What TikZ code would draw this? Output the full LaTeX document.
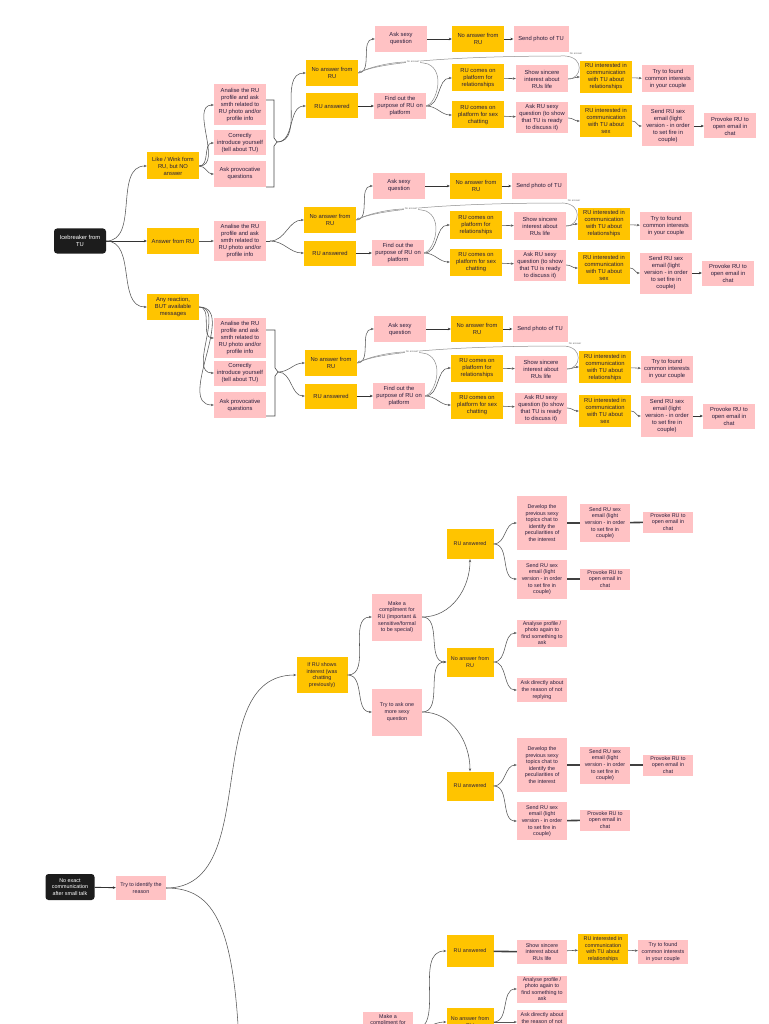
\documentclass[tikz,border=0pt]{standalone}
\usepackage{fontspec}
\setmainfont{Liberation Sans}
\usetikzlibrary{arrows.meta}
\definecolor{yel}{RGB}{255,196,0}
\definecolor{pnk}{RGB}{255,194,196}
\definecolor{txtc}{RGB}{40,30,60}
\definecolor{lnc}{RGB}{85,85,85}
\definecolor{blkc}{RGB}{28,28,28}
\newcommand\rublock{%
\node[yb,minimum height=26pt] (N) at (332,73) {No answer from\\RU};
\node[yb,minimum height=25pt] (A) at (332,106) {RU answered};
\node[pb,minimum height=26pt] (S) at (401,39) {Ask sexy\\question};
\node[yb,minimum height=26pt] (N2) at (478,39) {No answer from\\RU};
\node[pb,minimum height=26pt,minimum width=55pt] (P) at (541,39) {Send photo of TU};
\node[pb,minimum height=26pt] (F) at (400,106) {Find out the\\purpose of RU on\\platform};
\node[yb,minimum height=27pt] (R1) at (478,78) {RU comes on\\platform for\\relationships};
\node[yb,minimum height=27pt] (R2) at (478,115) {RU comes on\\platform for sex\\chatting};
\node[pb,minimum height=27pt] (Sh) at (542,79) {Show sincere\\interest about\\RUs life};
\node[pb,minimum height=31pt] (As) at (542,118) {Ask RU sexy\\question (to show\\that TU is ready\\to discuss it)};
\node[yb,minimum height=32pt] (I1) at (606,77) {RU interested in\\communication\\with TU about\\relationships};
\node[yb,minimum height=32pt] (I2) at (606,121) {RU interested in\\communication\\with TU about\\sex};
\node[pb,minimum height=27pt] (T) at (668,79) {Try to found\\common interests\\in your couple};
\node[pb,minimum height=41pt] (E) at (668,126) {Send RU sex\\email (light\\version - in order\\to set fire in\\couple)};
\node[pb,minimum height=25pt] (V) at (730,126) {Provoke RU to\\open email in\\chat};
\draw[arr] (N.east) to[out=0,in=180] (S.west);
\draw[thk] (S) -- (N2);
\draw[thk] (N2) -- (P);
\draw[thk] (A) -- (F);
\draw[arr] (F.east) to[out=0,in=180] (R1.west);
\draw[arr] (F.east) to[out=0,in=180] (R2.west);
\draw[arr] (R1) -- (Sh);
\draw[arr] (R2) -- (As);
\draw[arr] (Sh.east) to[out=0,in=180] (I1.west);
\draw[arr] (As.east) to[out=0,in=180] (I2.west);
\draw[arr] (I1) -- (T);
\draw[arr] (I2.east) to[out=0,in=180] (E.west);
\draw[thk] (E) -- (V);
\draw[fb] (F.east) .. controls (436,104) and (446,72) .. (428,64) .. controls (405,58) and (372,66) .. (N.east);
\draw[fb] (Sh.east) .. controls (582,79) and (585,57) .. (565,56) .. controls (480,56) and (385,60) .. (N.east);
\node[lab] (L1) at (413,62) {No answer};
\node[lab] (L2) at (576,54) {No answer};
}
\begin{document}
\begin{tikzpicture}[x=1pt,y=-1pt,
 box/.style={align=center, minimum width=52pt, inner sep=1pt, font=\fontsize{5.8}{7}\selectfont, text=txtc},
 yb/.style={box, fill=yel},
 pb/.style={box, fill=pnk},
 bk/.style={box, fill=blkc, text=white, rounded corners=3pt},
 sm/.style={font=\fontsize{5.4}{6.6}\selectfont, minimum width=50pt},
 arr/.style={draw=lnc, line width=0.55pt, -{Stealth[length=3pt,width=2.4pt]}},
 thk/.style={draw=black!80, line width=0.9pt, -{Stealth[length=3pt,width=2.6pt]}},
 thb/.style={draw=black!75, line width=1.6pt},
 fb/.style={draw=black!45, line width=0.5pt, -{Stealth[length=3pt,width=2.4pt]}},
 brk/.style={draw=black!70, line width=0.6pt},
 lab/.style={font=\fontsize{2.6}{3}\selectfont, text=black!55, inner sep=0.3pt, fill=white}
]
\fill[white] (0,0) rectangle (768,1024);
\useasboundingbox (0,0) rectangle (768,1024);
\clip (0,0) rectangle (768,1024);

% ---------- upper diagram ----------
\node[bk,minimum height=25pt] (ice) at (80,241) {Icebreaker from\\TU};
\node[yb,minimum height=27pt] (a0) at (173,166) {Like / Wink form\\RU, but NO\\answer};
\node[yb,minimum height=25pt] (b0) at (173,241) {Answer from RU};
\node[yb,minimum height=26pt] (c0) at (173,307) {Any reaction,\\BUT available\\messages};
\draw[arr] (ice.east) to[out=0,in=180] (a0.west);
\draw[thk] (ice) -- (b0);
\draw[arr] (ice.east) to[out=0,in=180] (c0.west);

\node[pb,minimum height=41pt] (a1) at (240,105) {Analise the RU\\profile and ask\\smth related to\\RU photo and/or\\profile info};
\node[pb,minimum height=25pt] (a2) at (240,143) {Correctly\\introduce yourself\\(tell about TU)};
\node[pb,minimum height=26pt] (a3) at (240,174) {Ask provocative\\questions};
\draw[arr] (a0.east) to[out=0,in=180] (a1.west);
\draw[arr] (a0.east) to[out=0,in=180] (a2.west);
\draw[arr] (a0.east) to[out=0,in=180] (a3.west);

\node[pb,minimum height=40pt] (b1) at (240,241) {Analise the RU\\profile and ask\\smth related to\\RU photo and/or\\profile info};
\draw[arr] (b0) -- (b1);

\node[pb,minimum height=40pt] (c1) at (240,338) {Analise the RU\\profile and ask\\smth related to\\RU photo and/or\\profile info};
\node[pb,minimum height=25pt] (c2) at (240,373) {Correctly\\introduce yourself\\(tell about TU)};
\node[pb,minimum height=26pt] (c3) at (240,405) {Ask provocative\\questions};
\draw[arr] (c0.east) to[out=0,in=180] (c1.west);
\draw[arr] (c0.east) to[out=0,in=180] (c2.west);
\draw[arr] (c0.east) to[out=0,in=180] (c3.west);

\begin{scope}[name prefix=s1-]\rublock\end{scope}
\begin{scope}[shift={(-2,147)},name prefix=s2-]\rublock\end{scope}
\begin{scope}[shift={(-1,290)},name prefix=s3-]\rublock\end{scope}

% brackets and merges
\coordinate (m1) at (277,142);
\draw[brk] (266,100) -- (274,100) -- (274,138) -- (m1) -- (274,146) -- (274,187) -- (266,187);
\draw[arr] (m1) to[out=0,in=180] (s1-N.west);
\draw[arr] (m1) to[out=0,in=180] (s1-A.west);

\coordinate (m2) at (270,241);
\draw[brk] (b1.east) -- (m2);
\draw[arr] (m2) to[out=0,in=180] (s2-N.west);
\draw[arr] (m2) to[out=0,in=180] (s2-A.west);

\coordinate (m3) at (278,372);
\draw[brk] (266,330) -- (275,330) -- (275,368) -- (m3) -- (275,376) -- (275,416) -- (266,416);
\draw[arr] (m3) to[out=0,in=180] (s3-N.west);
\draw[arr] (m3) to[out=0,in=180] (s3-A.west);

% ---------- lower diagram ----------
\node[bk,sm,minimum width=49pt,minimum height=26pt] (z0) at (70,887) {No exact\\communication\\after small talk};
\node[pb,sm,minimum height=24pt] (z1) at (141,888) {Try to identify the\\reason};
\draw[thk] (z0) -- (z1);
\coordinate (zd) at (240,1070);
\draw[arr] (z1.east) .. controls (215,888) and (236,925) .. (zd);

\node[yb,sm,minimum width=51pt,minimum height=36pt] (d0) at (322,675) {If RU shows\\interest (was\\chatting\\previously)};
\draw[arr] (z1.east) to[out=0,in=180] (d0.west);
\node[pb,sm,minimum height=47pt] (d1) at (397,617) {Make a\\compliment for\\RU (important \&\\sensitive/formal\\to be special)};
\node[pb,sm,minimum height=47pt] (d2) at (397,712) {Try to ask one\\more sexy\\question};
\draw[arr] (d0.east) to[out=0,in=180] (d1.west);
\draw[arr] (d0.east) to[out=0,in=180] (d2.west);

\node[yb,sm,minimum width=47pt,minimum height=30pt] (e1) at (470,544) {RU answered};
\node[yb,sm,minimum width=47pt,minimum height=29pt] (e2) at (470,662) {No answer from\\RU};
\node[yb,sm,minimum width=47pt,minimum height=29pt] (e3) at (470,786) {RU answered};
\draw[arr] (d1.east) to[out=0,in=-90] (e1.south);
\draw[arr] (d1.east) to[out=0,in=180] (e2.west);
\draw[arr] (d2.east) to[out=0,in=180] (e2.west);
\draw[arr] (d2.east) to[out=0,in=90] (e3.north);

\node[pb,sm,minimum height=54pt] (f1) at (542,523) {Develop the\\previous sexy\\topics chat to\\identify the\\peculiarities of\\the interest};
\node[pb,sm,minimum height=39pt] (f2) at (542,579) {Send RU sex\\email (light\\version - in order\\to set fire in\\couple)};
\node[pb,sm,minimum height=38pt] (g1) at (605,523) {Send RU sex\\email (light\\version - in order\\to set fire in\\couple)};
\node[pb,sm,minimum height=21pt] (h1) at (668,522) {Provoke RU to\\open email in\\chat};
\node[pb,sm,minimum height=21pt] (g2) at (605,579) {Provoke RU to\\open email in\\chat};
\draw[arr] (e1.east) to[out=0,in=180] (f1.west);
\draw[arr] (e1.east) to[out=0,in=180] (f2.west);
\draw[thb] (f1) -- (g1);
\draw[thb] (g1) -- (h1);
\draw[thb] (f2) -- (g2);

\node[pb,sm,minimum height=27pt] (f3) at (542,633) {Analyse profile /\\photo again to\\find something to\\ask};
\node[pb,sm,minimum height=24pt] (f4) at (542,690) {Ask directly about\\the reason of not\\replying};
\draw[arr] (e2.east) to[out=0,in=180] (f3.west);
\draw[arr] (e2.east) to[out=0,in=180] (f4.west);

\node[pb,sm,minimum height=54pt] (f5) at (542,765) {Develop the\\previous sexy\\topics chat to\\identify the\\peculiarities of\\the interest};
\node[pb,sm,minimum height=37pt] (g3) at (605,765) {Send RU sex\\email (light\\version - in order\\to set fire in\\couple)};
\node[pb,sm,minimum height=21pt] (h3) at (668,765) {Provoke RU to\\open email in\\chat};
\node[pb,sm,minimum height=38pt] (f6) at (542,821) {Send RU sex\\email (light\\version - in order\\to set fire in\\couple)};
\node[pb,sm,minimum height=21pt] (g4) at (605,820) {Provoke RU to\\open email in\\chat};
\draw[arr] (e3.east) to[out=0,in=180] (f5.west);
\draw[arr] (e3.east) to[out=0,in=180] (f6.west);
\draw[thb] (f5) -- (g3);
\draw[thb] (g3) -- (h3);
\draw[thb] (f6) -- (g4);

% bottom, partly cut
\node[yb,sm,minimum width=47pt,minimum height=32pt] (k1) at (470,951) {RU answered};
\node[pb,sm,minimum height=24pt] (k2) at (542,952) {Show sincere\\interest about\\RUs life};
\node[yb,sm,minimum height=30pt] (k3) at (603,949) {RU interested in\\communication\\with TU about\\relationships};
\node[pb,sm,minimum height=24pt] (k4) at (663,952) {Try to found\\common interests\\in your couple};
\node[pb,sm,minimum height=27pt] (k5) at (542,989) {Analyse profile /\\photo again to\\find something to\\ask};
\node[pb,sm,minimum height=25pt] (k6) at (542,1022) {Ask directly about\\the reason of not\\replying};
\node[yb,sm,minimum width=47pt,minimum height=29pt] (k7) at (470,1022) {No answer from\\RU};
\node[pb,sm,minimum height=36pt] (k8) at (388,1030) {Make a\\compliment for\\RU (important \&\\sensitive/formal\\to be special)};
\draw[arr] (k8.east) to[out=0,in=180] (k1.west);
\draw[arr] (k8.east) to[out=0,in=180] (k7.west);
\draw[thb] (k1) -- (k2);
\draw[arr] (k2) -- (k3);
\draw[arr] (k3) -- (k4);
\draw[arr] (k7.east) to[out=0,in=180] (k5.west);
\draw[arr] (k7.east) to[out=0,in=180] (k6.west);
\end{tikzpicture}
\end{document}
